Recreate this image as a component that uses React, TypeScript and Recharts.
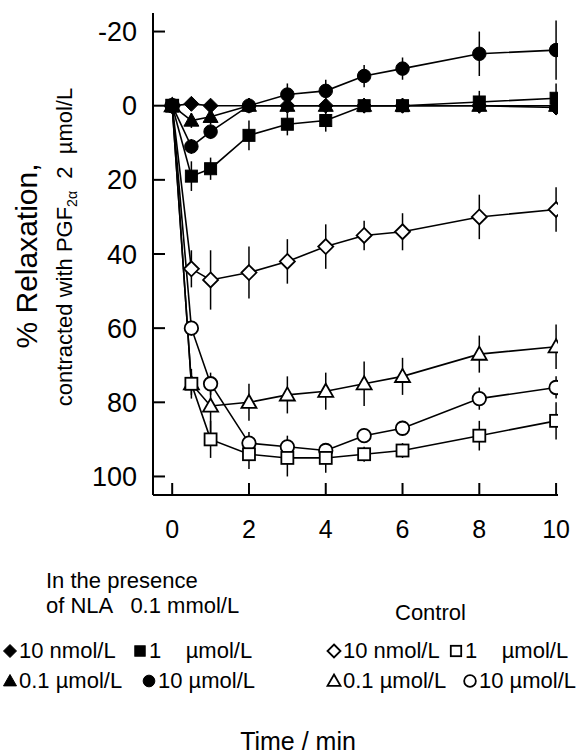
import { LineChart, Line, XAxis, YAxis, ErrorBar } from "recharts";

// the page is photographed from the root box, so drop the body margin
// and lay the whole figure out in page pixels
if (typeof document !== "undefined") document.body.style.margin = "0";

const FONT = "'Liberation Sans', Arial, sans-serif";

// time after addition (min)
const times = [0, 0.5, 1, 2, 3, 4, 5, 6, 8, 10];

// in the presence of NLA 0.1 mmol/L (filled symbols)
const nla10nM = [0, -0.5, 0, 0, 0, 0, 0, 0, 0, 0.5];
const nla10nMErr = [0, 1, 1, 1, 1, 1, 1, 1, 2, 2];
const nla1uM = [0, 19, 17, 8, 5, 4, 0, 0, -1, -2];
const nla1uMErr = [0, 4, 3, 4, 3, 3, 2, 2, 3, 4];
const nla01uM = [0, 4, 3, 0, 0, 0, 0, 0, 0, 0];
const nla01uMErr = [0, 2, 2, 1, 1, 1, 1, 1, 1, 1];
const nla10uM = [0, 11, 7, 0, -3, -4, -8, -10, -14, -15];
const nla10uMErr = [0, 2, 2, 2, 3, 3, 3, 3, 6, 8];

// control (open symbols)
const ctl10nM = [0, 44, 47, 45, 42, 38, 35, 34, 30, 28];
const ctl10nMErr = [0, 5, 8, 7, 6, 6, 4, 5, 6, 6];
const ctl1uM = [0, 75, 90, 94, 95, 95, 94, 93, 89, 85];
const ctl1uMErr = [0, 3, 5, 4, 5, 4, 2, 2, 4, 5];
const ctl01uM = [0, 75, 81, 80, 78, 77, 75, 73, 67, 65];
const ctl01uMErr = [0, 4, 8, 5, 5, 5, 6, 5, 5, 6];
const ctl10uM = [0, 60, 75, 91, 92, 93, 89, 87, 79, 76];
const ctl10uMErr = [0, 2, 3, 3, 3, 2, 2, 2, 3, 3];

const xTicks = [0, 2, 4, 6, 8, 10];
const yTicks = [-20, 0, 20, 40, 60, 80, 100];

type Shape = "diamond" | "square" | "triangle" | "circle";

const series = [
  { key: "ctl10nM", values: ctl10nM, errors: ctl10nMErr, shape: "diamond" as Shape, filled: false },
  { key: "ctl01uM", values: ctl01uM, errors: ctl01uMErr, shape: "triangle" as Shape, filled: false },
  { key: "ctl10uM", values: ctl10uM, errors: ctl10uMErr, shape: "circle" as Shape, filled: false },
  { key: "ctl1uM", values: ctl1uM, errors: ctl1uMErr, shape: "square" as Shape, filled: false },
  { key: "nla01uM", values: nla01uM, errors: nla01uMErr, shape: "triangle" as Shape, filled: true },
  { key: "nla1uM", values: nla1uM, errors: nla1uMErr, shape: "square" as Shape, filled: true },
  { key: "nla10uM", values: nla10uM, errors: nla10uMErr, shape: "circle" as Shape, filled: true },
  { key: "nla10nM", values: nla10nM, errors: nla10nMErr, shape: "diamond" as Shape, filled: true },
];

const data = times.map((t, i) => {
  const row: any = { t };
  series.forEach((s) => {
    row[s.key] = s.values[i];
    row[s.key + "Err"] = s.errors[i];
  });
  return row;
});

function Marker({ shape, filled, cx, cy, s }: { shape: Shape; filled: boolean; cx: number; cy: number; s: number }) {
  const props = { fill: filled ? "#000" : "#fff", stroke: "#000", strokeWidth: filled ? 1 : 1.8 };
  if (shape === "diamond")
    return <polygon points={`${cx},${cy - s} ${cx + s},${cy} ${cx},${cy + s} ${cx - s},${cy}`} {...props} />;
  if (shape === "square")
    return <rect x={cx - s * 0.8} y={cy - s * 0.8} width={s * 1.6} height={s * 1.6} {...props} />;
  if (shape === "triangle")
    return <polygon points={`${cx},${cy - s} ${cx + s},${cy + s * 0.75} ${cx - s},${cy + s * 0.75}`} {...props} />;
  return <circle cx={cx} cy={cy} r={s * 0.9} {...props} />;
}

const XTick = (p: any) => (
  <g>
    <line x1={p.x} x2={p.x} y1={p.y} y2={p.y - 12} stroke="#000" strokeWidth={2} />
    <text x={p.x} y={p.y + 43} textAnchor="middle" fontSize={25} fontFamily={FONT} fill="#000">
      {p.payload.value}
    </text>
  </g>
);

const YTick = (p: any) => (
  <g>
    <line x1={p.x} x2={p.x + 12} y1={p.y} y2={p.y} stroke="#000" strokeWidth={2} />
    <text x={p.x - 16} y={p.y + 9.5} textAnchor="end" fontSize={27} fontFamily={FONT} fill="#000">
      {p.payload.value}
    </text>
  </g>
);

function LegendItem({ x, y, shape, filled, label }: { x: number; y: number; shape: Shape; filled: boolean; label: string }) {
  return (
    <g>
      <Marker shape={shape} filled={filled} cx={x} cy={y - 7} s={6.5} />
      <text x={x + 9} y={y} fontSize={22} fontFamily={FONT} style={{ whiteSpace: "pre" }}>
        {label}
      </text>
    </g>
  );
}

export default function App() {
  return (
    <div style={{ position: "relative", width: 584, height: 754 }}>
      <LineChart width={584} height={754} data={data} margin={{ top: 13, right: 26, bottom: 0, left: 8 }}>
        <XAxis
          type="number"
          dataKey="t"
          domain={[-0.5, 10.05]}
          ticks={xTicks}
          allowDataOverflow
          height={259}
          tickSize={0}
          tickMargin={0}
          tickLine={false}
          tick={XTick}
          axisLine={{ stroke: "#000", strokeWidth: 2 }}
        />
        <YAxis
          type="number"
          domain={[-25, 105]}
          reversed
          ticks={yTicks}
          allowDataOverflow
          width={145}
          tickSize={0}
          tickMargin={0}
          tickLine={false}
          tick={YTick}
          axisLine={{ stroke: "#000", strokeWidth: 2 }}
        />
        {series.map((s) => (
          <Line
            key={s.key}
            dataKey={s.key}
            type="linear"
            stroke="#000"
            strokeWidth={1.6}
            isAnimationActive={false}
            dot={(p: any) => (
              <Marker key={`${s.key}-${p.index}`} shape={s.shape} filled={s.filled} cx={p.cx} cy={p.cy} s={7.5} />
            )}
            activeDot={false}
          >
            <ErrorBar dataKey={s.key + "Err"} direction="y" width={0} stroke="#000" strokeWidth={1.5} isAnimationActive={false} />
          </Line>
        ))}
      </LineChart>
      <svg width={584} height={754} style={{ position: "absolute", left: 0, top: 0, pointerEvents: "none" }}>
        <text transform="translate(37,256) rotate(-90)" textAnchor="middle" fontSize={30} fontFamily={FONT}>
          % Relaxation,
        </text>
        <text transform="translate(72,247) rotate(-90)" textAnchor="middle" fontSize={22} fontFamily={FONT} style={{ whiteSpace: "pre" }}>
          contracted with PGF
          <tspan dy={5} fontSize={14}>2α</tspan>
          <tspan dy={-5}>  2  µmol/L</tspan>
        </text>

        <text x={46} y={588} fontSize={22} fontFamily={FONT}>In the presence</text>
        <text x={46} y={613} fontSize={22} fontFamily={FONT} style={{ whiteSpace: "pre" }}>of NLA   0.1 mmol/L</text>
        <text x={395} y={620} fontSize={22} fontFamily={FONT}>Control</text>

        <LegendItem x={10} y={658} shape="diamond" filled label="10 nmol/L" />
        <LegendItem x={140} y={658} shape="square" filled label="1    µmol/L" />
        <LegendItem x={10} y={688} shape="triangle" filled label="0.1 µmol/L" />
        <LegendItem x={149} y={688} shape="circle" filled label="10 µmol/L" />

        <LegendItem x={334} y={658} shape="diamond" filled={false} label="10 nmol/L" />
        <LegendItem x={456} y={658} shape="square" filled={false} label="1    µmol/L" />
        <LegendItem x={334} y={688} shape="triangle" filled={false} label="0.1 µmol/L" />
        <LegendItem x={470} y={688} shape="circle" filled={false} label="10 µmol/L" />

        <text x={298} y={750} textAnchor="middle" fontSize={25} fontFamily={FONT} style={{ whiteSpace: "pre" }}>
          Time / min
        </text>
      </svg>
    </div>
  );
}
